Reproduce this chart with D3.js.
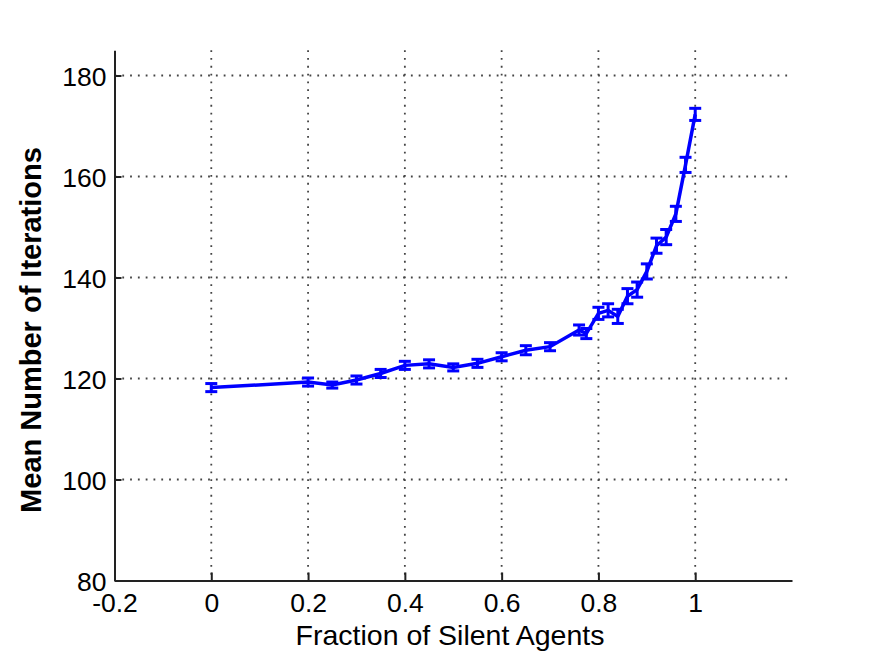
<!DOCTYPE html>
<html>
<head>
<meta charset="utf-8">
<script src="https://cdn.jsdelivr.net/npm/d3@7"></script>
<style>
  body { margin: 0; background: #fff; }
  text { font-family: "Liberation Sans", Arial, sans-serif; fill: #000; }
</style>
</head>
<body>
<div id="chart"></div>
<script>
// Fraction of silent agents vs mean number of iterations (with error bars)
const fraction = [0, 0.2, 0.25, 0.3, 0.35, 0.4, 0.45, 0.5, 0.55, 0.6, 0.65, 0.7,
  0.76, 0.775, 0.8, 0.82, 0.84, 0.86, 0.88, 0.9, 0.92, 0.94, 0.96, 0.98, 1.0];
const meanIter = [118.2, 119.3, 118.7, 119.7, 121.0, 122.6, 122.9, 122.2, 123.0, 124.3, 125.6, 126.3,
  129.6, 128.9, 132.9, 133.5, 132.3, 136.3, 137.6, 141.2, 146.3, 148.0, 152.6, 162.3, 172.3];
const errIter = [0.8, 0.8, 0.6, 0.8, 0.8, 0.8, 0.8, 0.7, 0.8, 0.8, 0.9, 0.8,
  1.0, 1.0, 1.2, 1.3, 1.4, 1.5, 1.5, 1.5, 1.5, 1.5, 1.5, 1.5, 1.2];
const xTicks = [-0.2, 0, 0.2, 0.4, 0.6, 0.8, 1];
const yTicks = [80, 100, 120, 140, 160, 180];

const data = fraction.map((f, i) => ({ x: f, y: meanIter[i], e: errIter[i] }));

const W = 874, H = 654;
const svg = d3.select("#chart").append("svg")
  .attr("width", W).attr("height", H);

const x = d3.scaleLinear().domain([-0.2, 1.2]).range([114.5, 792]);
const y = d3.scaleLinear().domain([80, 185]).range([580.5, 50.25]);

// Dotted grid
const grid = svg.append("g")
  .attr("stroke", "#444")
  .attr("stroke-width", 1.8)
  .attr("stroke-dasharray", "1.8,6");

grid.selectAll(".vg")
  .data(xTicks.filter(t => t > -0.2))
  .join("line")
  .attr("x1", d => x(d)).attr("x2", d => x(d))
  .attr("y1", y(185)).attr("y2", y(80));

grid.selectAll(".hg")
  .data(yTicks.filter(t => t > 80))
  .join("line")
  .attr("x1", x(-0.2)).attr("x2", x(1.2))
  .attr("y1", d => y(d)).attr("y2", d => y(d));

// Axes (ticks pointing inward), plain hyphen for negatives like the original
const fmt = d => String(d);

const xAxis = svg.append("g")
  .attr("transform", `translate(0,${y(80)})`)
  .call(d3.axisBottom(x).tickValues(xTicks).tickSizeInner(-8).tickSizeOuter(0)
    .tickPadding(13).tickFormat(fmt));

const yAxis = svg.append("g")
  .attr("transform", `translate(${x(-0.2)},0)`)
  .call(d3.axisLeft(y).tickValues(yTicks).tickSizeInner(-7).tickSizeOuter(0)
    .tickPadding(8).tickFormat(fmt));

[xAxis, yAxis].forEach(a => {
  a.select(".domain").attr("stroke", "#222").attr("stroke-width", 2);
  a.selectAll(".tick line").attr("stroke", "#222").attr("stroke-width", 2);
  a.selectAll(".tick text")
    .style("font-family", "'Liberation Sans', Arial, sans-serif")
    .style("font-size", "26.5px")
    .attr("fill", "#000");
});
yAxis.selectAll(".tick text").attr("dy", "0.36em");
xAxis.selectAll(".tick text").attr("dy", "0.71em");

// Axis labels
svg.append("text")
  .attr("x", 450)
  .attr("y", 645)
  .attr("text-anchor", "middle")
  .style("font-size", "28.5px")
  .text("Fraction of Silent Agents");

svg.append("text")
  .attr("transform", "rotate(-90)")
  .attr("x", -330)
  .attr("y", 41)
  .attr("text-anchor", "middle")
  .style("font-size", "29px")
  .style("font-weight", "bold")
  .text("Mean Number of Iterations");

// Line
const line = d3.line()
  .x(d => x(d.x))
  .y(d => y(d.y));

svg.append("path")
  .datum(data)
  .attr("fill", "none")
  .attr("stroke", "#0000ff")
  .attr("stroke-width", 3.5)
  .attr("d", line);

// Error bars
const capW = 6;
const bars = svg.append("g")
  .attr("stroke", "#0000ff")
  .attr("stroke-width", 3)
  .selectAll("g")
  .data(data)
  .join("g");

bars.append("line")
  .attr("x1", d => x(d.x)).attr("x2", d => x(d.x))
  .attr("y1", d => y(d.y - d.e)).attr("y2", d => y(d.y + d.e));

bars.append("line")
  .attr("x1", d => x(d.x) - capW).attr("x2", d => x(d.x) + capW)
  .attr("y1", d => y(d.y + d.e)).attr("y2", d => y(d.y + d.e));

bars.append("line")
  .attr("x1", d => x(d.x) - capW).attr("x2", d => x(d.x) + capW)
  .attr("y1", d => y(d.y - d.e)).attr("y2", d => y(d.y - d.e));
</script>
</body>
</html>
